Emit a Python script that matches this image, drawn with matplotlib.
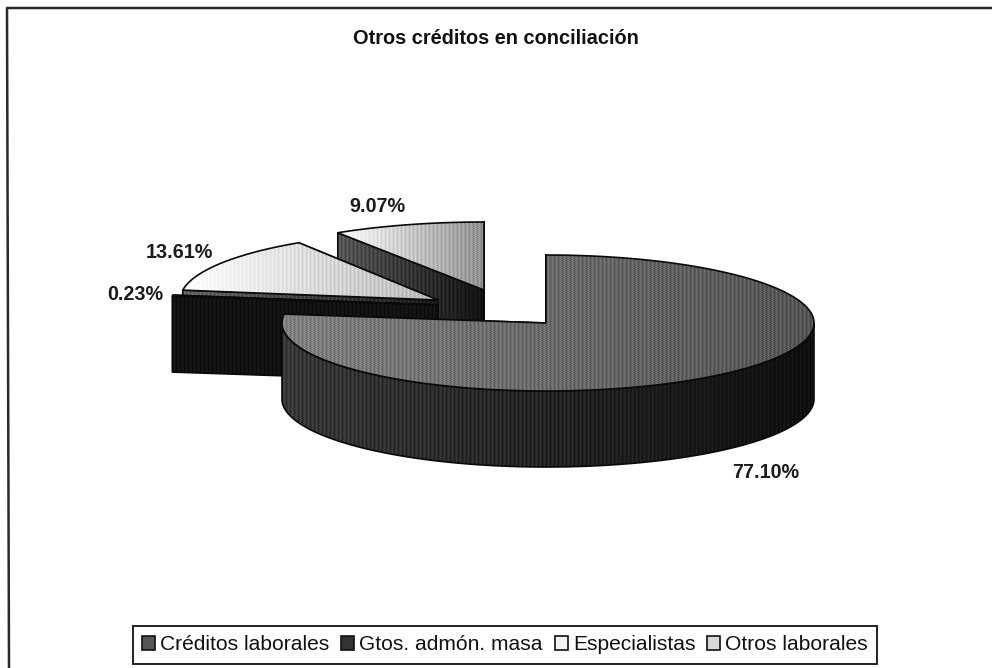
import numpy as np
import matplotlib
matplotlib.use("Agg")
import matplotlib.pyplot as plt
from matplotlib.patches import Polygon, Patch

# ---- data ----
categories = ["Créditos laborales", "Gtos. admón. masa", "Especialistas", "Otros laborales"]
shares = [77.10, 0.23, 13.61, 9.07]
title_text = "Otros créditos en conciliación"

# ---- layout (pixel space of the picture) ----
RX_RIGHT, RY, DEPTH = 268, 68, 76
rx_left = [264, 267, 258, 271]
centers = [(546, 323), (437, 305), (438, 300), (484, 290)]
label_pos = [(766, 472), (135.5, 295), (179, 252), (377, 207)]
# (left shade, right shade) for top faces, front arc walls and cut walls
top_shade = [(0.50, 0.33), (0.45, 0.45), (1.00, 0.72), (1.00, 0.56)]
wall_shade = [(0.22, 0.06), (0.07, 0.07), (0.40, 0.10), (0.34, 0.07)]
draw_order = [3, 2, 1, 0]

plt.rcParams["font.family"] = ["Liberation Sans", "DejaVu Sans"]
fig = plt.figure(figsize=(9.92, 6.68), dpi=100, facecolor="white")
ax = fig.add_axes([0, 0, 1, 1])
ax.set_axis_off()


def rim(i, a0, a1, n=90):
    c = centers[i]
    t = np.radians(np.linspace(a0, a1, n))
    s = np.sin(t)
    rx = np.where(s < 0, rx_left[i], RX_RIGHT)
    return np.column_stack([c[0] + rx * s, c[1] - RY * np.cos(t)])


def textured(poly, shade, amp=0.055, z=1):
    poly = np.asarray(poly)
    x0, y0 = np.floor(poly.min(axis=0))
    x1, y1 = np.ceil(poly.max(axis=0))
    w, h = int(x1 - x0) + 1, int(y1 - y0) + 1
    xx, yy = np.meshgrid(np.arange(w), np.arange(h))
    base = shade[0] + (shade[1] - shade[0]) * xx / max(w - 1, 1)
    weave = np.where(((xx + yy) % 4 < 2) ^ (yy % 4 < 2), 1.0, -1.0)
    img = np.clip(base + amp * weave * (1 - np.abs(2 * base - 1) ** 4), 0, 1)
    im = ax.imshow(img, cmap="gray", vmin=0, vmax=1, extent=(x0, x0 + w, y0 + h, y0),
                   interpolation="nearest", aspect="auto", zorder=z)
    clip = Polygon(poly, closed=True, transform=ax.transData, fill=False)
    im.set_clip_path(clip)
    ax.add_patch(Polygon(poly, closed=True, fill=False, edgecolor="#0a0a0a", lw=1.2,
                         joinstyle="round", zorder=z))


def extrude(edge):
    edge = np.asarray(edge)
    return np.vstack([edge, (edge + [0, DEPTH])[::-1]])


ends = np.cumsum(shares) / np.sum(shares) * 360
starts = np.concatenate([[0], ends[:-1]])

z = 1
for i in draw_order:
    c, a0, a1 = centers[i], starts[i], ends[i]
    # cut faces
    for a in (a1, a0):
        textured(extrude([rim(i, a, a, 1)[0], c]), wall_shade[i], z=z)
        z += 1
    # outer curved face (the part that faces the viewer)
    f0, f1 = max(a0, 90), min(a1, 270)
    if f1 > f0:
        textured(extrude(rim(i, f0, f1, 160)), wall_shade[i], z=z)
        z += 1
    # top face
    textured(np.vstack([[c], rim(i, a0, a1, 240)]), top_shade[i], z=z)
    z += 1

# ---- labels ----
for share, (x, y) in zip(shares, label_pos):
    ax.text(x, y, f"{share:.2f}%", ha="center", va="center", fontsize=14.2,
            fontweight="bold", color="#1c1c1c", zorder=z)
ax.text(496, 38, title_text, ha="center", va="center", fontsize=14.4,
        fontweight="bold", color="#111111", zorder=z)

# ---- outer frame ----
ax.plot([9, 7, 992], [668, 8, 8], color="#2a2a2a", lw=1.8, zorder=z)

ax.set_xlim(0, 992)
ax.set_ylim(668, 0)

# ---- legend ----
swatch_colors = ["#555555", "#333333", "#f2f2f2", "#d8d8d8"]
handles = [Patch(facecolor=col, edgecolor="#111111", lw=1.2, label=name)
           for col, name in zip(swatch_colors, categories)]
leg = ax.legend(handles=handles, ncol=4, loc="center", bbox_to_anchor=(505, 645),
                bbox_transform=ax.transData, fontsize=15.1, frameon=True, fancybox=False,
                edgecolor="#222222", framealpha=1, borderpad=0.45, columnspacing=0.56,
                handlelength=0.62, handleheight=0.62, handletextpad=0.25, labelcolor="#111111")
leg.get_frame().set_linewidth(1.4)
leg.set_zorder(z)

fig.savefig("out.png", dpi=100, facecolor="white")
